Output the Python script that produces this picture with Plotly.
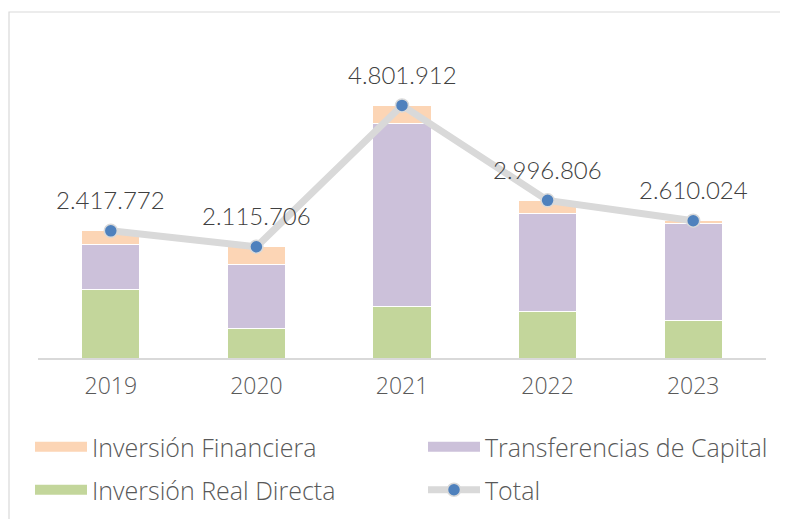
import plotly.graph_objects as go

years = ["2019", "2020", "2021", "2022", "2023"]
inv_real_directa = [1306000, 570000, 975000, 888000, 722000]
transferencias_capital = [848000, 1211000, 3487000, 1855000, 1826000]
inv_financiera = [263772, 334706, 339912, 253806, 62024]
total = [2417772, 2115706, 4801912, 2996806, 2610024]

names = ["Inversión Real Directa", "Transferencias de Capital", "Inversión Financiera"]
colors = ["#C3D69B", "#CCC1DA", "#FCD5B5"]
series = [inv_real_directa, transferencias_capital, inv_financiera]

tick_font = dict(family="Open Sans, Lato, sans-serif", size=23, color="#595959", weight=300)
label_font = dict(family="Lato, Roboto, sans-serif", size=24, color="#404040", weight=300)
legend_font = dict(family="Open Sans, Lato, sans-serif", size=25, color="#595959", weight=300)

fig = go.Figure()
for nm, col, vals in zip(names, colors, series):
    fig.add_trace(go.Bar(x=years, y=vals, name=nm, marker=dict(color=col, line=dict(color="white", width=1)),
                         showlegend=False, legendgroup=nm))

fig.add_trace(go.Scatter(x=years, y=total, name="Total", mode="lines+markers",
                         line=dict(color="#D9D9D9", width=7),
                         marker=dict(color="#4F81BD", size=13, line=dict(color="#D9D9D9", width=1.5)),
                         showlegend=False))

# legend entries, each in its own legend box
legend_order = ["Inversión Financiera", "Transferencias de Capital", "Inversión Real Directa"]
legend_ids = {"Inversión Financiera": "legend", "Transferencias de Capital": "legend2",
              "Inversión Real Directa": "legend3"}
for nm in legend_order:
    col = colors[names.index(nm)]
    fig.add_trace(go.Scatter(x=[None], y=[None], mode="lines", name=nm, legendgroup=nm,
                             line=dict(color=col, width=11), legend=legend_ids[nm]))
fig.add_trace(go.Scatter(x=[None], y=[None], mode="lines+markers", name="Total", legend="legend4",
                         line=dict(color="#D9D9D9", width=7),
                         marker=dict(color="#4F81BD", size=13, line=dict(color="#D9D9D9", width=1.5))))

# data labels above the total markers (category index positions)
for i, t in enumerate(total):
    fig.add_annotation(x=i, y=t, xref="x", yref="y", text=f"{t:,}".replace(",", "."),
                       showarrow=False, yshift=31, font=label_font)

L, R, T, B = 30, 30, 12, 169
W, H = 788, 519
PW, PH = W - L - R, H - T - B

def px_x(px):
    return (px - L) / PW

def px_y(px):
    return (H - B - px) / PH

def leg(x, y):
    return dict(orientation="h", x=px_x(x), xanchor="left", y=px_y(y), yanchor="middle",
                font=legend_font, itemwidth=52, bgcolor="rgba(0,0,0,0)")

fig.update_layout(
    width=W, height=H,
    margin=dict(l=L, r=R, t=T, b=B),
    paper_bgcolor="white", plot_bgcolor="white",
    barmode="stack", bargap=0.6,
    xaxis=dict(type="category", range=[-0.5, 4.5], showline=True, linecolor="#D9D9D9", linewidth=1.5,
               tickfont=tick_font, showgrid=False, ticks="", ticklabelstandoff=7),
    yaxis=dict(range=[0, 6426000], visible=False, showgrid=False),
    legend=leg(22, 439),
    legend2=leg(415, 439),
    legend3=leg(22, 482),
    legend4=leg(415, 482),
    shapes=[dict(type="rect", xref="paper", yref="paper", x0=px_x(1), x1=px_x(800), y0=px_y(530), y1=px_y(4),
                 line=dict(color="#D9D9D9", width=1.2), fillcolor="rgba(0,0,0,0)", layer="below")],
)

fig.write_html("out.html")
